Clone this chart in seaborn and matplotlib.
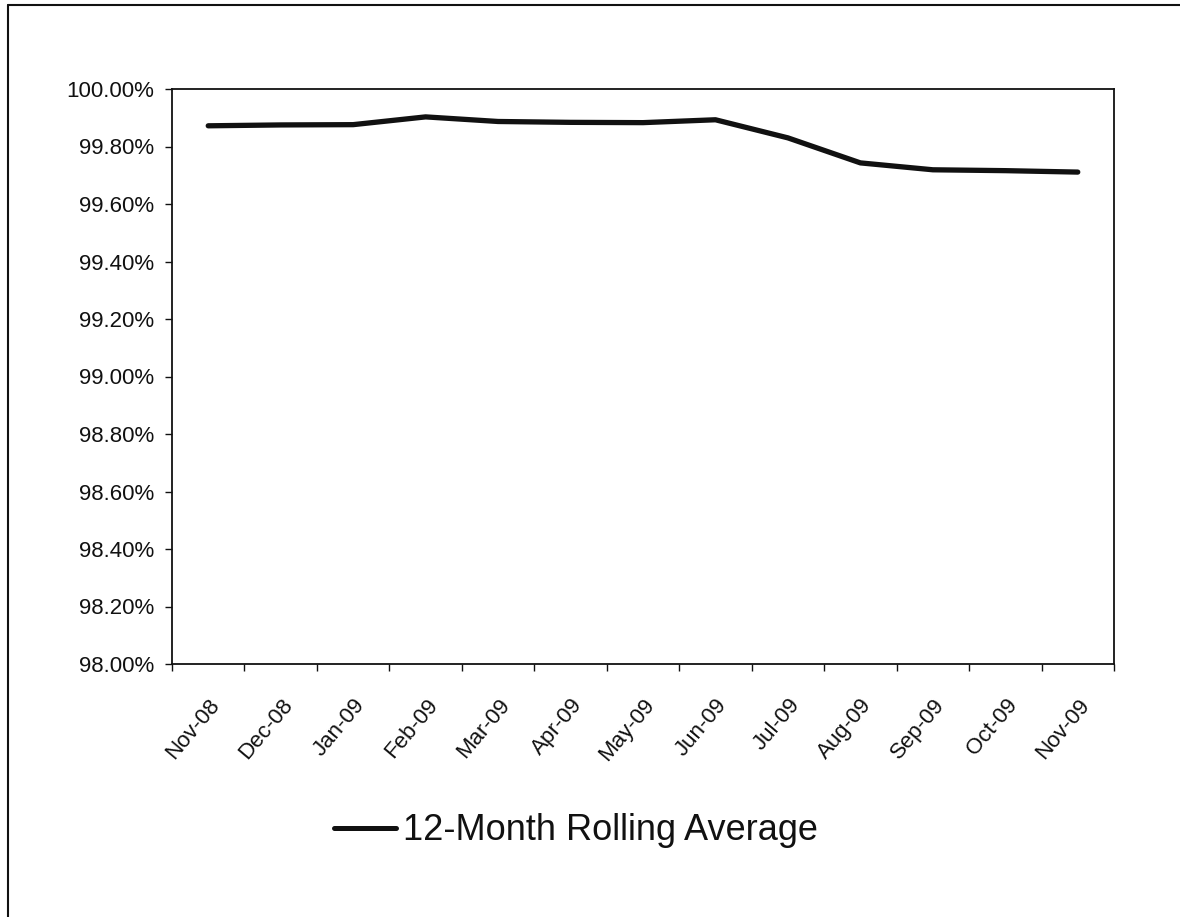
import numpy as np
import pandas as pd
import matplotlib
matplotlib.use('Agg')
import matplotlib.pyplot as plt
from matplotlib.lines import Line2D
from matplotlib.ticker import PercentFormatter, MultipleLocator
import seaborn as sns

# ── Data ──────────────────────────────────────────────────────────────────────
months = ['Nov-08', 'Dec-08', 'Jan-09', 'Feb-09', 'Mar-09', 'Apr-09', 'May-09',
          'Jun-09', 'Jul-09', 'Aug-09', 'Sep-09', 'Oct-09', 'Nov-09']
rolling_avg = [99.872, 99.875, 99.876, 99.903, 99.887, 99.884, 99.883,
               99.893, 99.830, 99.743, 99.719, 99.716, 99.711]
series_name = '12-Month Rolling Average'

df = pd.DataFrame({'Month': months, 'Value': rolling_avg, 'Series': series_name})

# ── Style ─────────────────────────────────────────────────────────────────────
sns.set_style('white')
plt.rcParams['font.family'] = ['Liberation Sans', 'DejaVu Sans']
BLACK = '#111111'

W, H = 1180, 917
fig = plt.figure(figsize=(W / 100, H / 100), dpi=100)
fig.patch.set_facecolor('white')
ax = fig.add_axes([172 / W, 1 - 664 / H, (1114 - 172) / W, (664 - 89) / H])

sns.lineplot(data=df, x='Month', y='Value', ax=ax, color=BLACK,
             linewidth=3.8, solid_capstyle='round', solid_joinstyle='round',
             sort=False, legend=False)

# axes
ax.set_xlim(-0.5, len(months) - 0.5)
ax.set_ylim(98.0, 100.0)
ax.yaxis.set_major_locator(MultipleLocator(0.2))
ax.yaxis.set_major_formatter(PercentFormatter(xmax=100, decimals=2))
ax.set_xlabel('')
ax.set_ylabel('')

# category labels centred, tick marks on category boundaries
ax.set_xticks(range(len(months)))
ax.set_xticklabels(months, rotation=50, ha='right', rotation_mode='anchor')
ax.set_xticks(np.arange(-0.5, len(months), 1), minor=True)
ax.tick_params(axis='x', which='major', length=0, pad=22, labelsize=16, colors=BLACK)
ax.tick_params(axis='x', which='minor', length=5, width=1, direction='out',
               bottom=True, color=BLACK)
ax.tick_params(axis='y', which='major', length=5, width=1, direction='out',
               left=True, pad=8, labelsize=16, colors=BLACK)

for sp in ax.spines.values():
    sp.set_visible(True)
    sp.set_color(BLACK)
    sp.set_linewidth(1.3)

# legend below the plot
handle = Line2D([], [], color=BLACK, linewidth=3.6)
fig.legend([handle], [series_name], loc='center', bbox_to_anchor=(576 / W, 1 - 831 / H),
           frameon=False, fontsize=26, handlelength=1.7, handletextpad=0.2,
           labelcolor=BLACK)

# chart-area border (left and top edges visible in the scan)
fig.add_artist(Line2D([8 / W, 8 / W], [0, 1 - 5 / H], transform=fig.transFigure,
                      color=BLACK, linewidth=1.5))
fig.add_artist(Line2D([8 / W, 1], [1 - 5 / H, 1 - 5 / H], transform=fig.transFigure,
                      color=BLACK, linewidth=1.5))

fig.savefig('out.png', dpi=100, facecolor='white')
